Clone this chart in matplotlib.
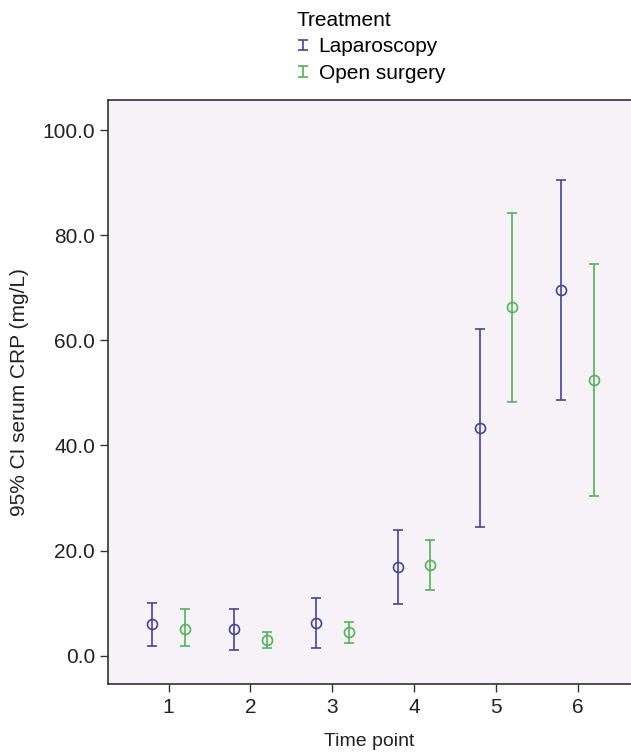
import numpy as np
import matplotlib
matplotlib.use('Agg')
import matplotlib.pyplot as plt
from matplotlib.legend_handler import HandlerErrorbar

plt.rcParams['font.family'] = ['Liberation Sans', 'DejaVu Sans']

time_points = [1, 2, 3, 4, 5, 6]
groups = ['Laparoscopy', 'Open surgery']

lap_mean = [6.0, 5.0, 6.3, 16.9, 43.4, 69.6]
lap_upper = [10.1, 8.8, 11.0, 23.9, 62.1, 90.4]
lap_lower = [1.8, 1.1, 1.4, 9.8, 24.5, 48.6]

open_mean = [5.0, 2.9, 4.5, 17.3, 66.3, 52.5]
open_upper = [8.8, 4.5, 6.4, 22.1, 84.2, 74.6]
open_lower = [1.8, 1.4, 2.4, 12.5, 48.3, 30.3]

colors = ['#44449a', '#52b35a']

fig = plt.figure(figsize=(6.31, 7.54), dpi=100)
ax = fig.add_axes([0.1716, 0.0924, 0.8284, 0.7756])
ax.set_facecolor('#f6f2f7')

series = [(lap_mean, lap_lower, lap_upper), (open_mean, open_lower, open_upper)]
offsets = [-0.2, 0.2]
handles = []
for (m, lo, up), off, c, g in zip(series, offsets, colors, groups):
    x = np.array(time_points) + off
    m = np.array(m); lo = np.array(lo); up = np.array(up)
    eb = ax.errorbar(x, m, yerr=[m - lo, up - m], fmt='none', ecolor=c,
                     elinewidth=1.2, capsize=3.6, capthick=1.2, label=g)
    ax.plot(x, m, 'o', mfc='none', mec=c, ms=7.2, mew=1.2)
    handles.append(eb)

ax.set_xlim(0.264, 6.65)
ax.set_ylim(-5.44, 105.8)
ax.set_xticks(time_points)
ax.set_yticks([0, 20, 40, 60, 80, 100])
ax.set_yticklabels(['%.1f' % v for v in [0, 20, 40, 60, 80, 100]])
ax.tick_params(labelsize=15, length=6, width=1, color='#333333', labelcolor='#222222')
for s in ['left', 'bottom', 'top']:
    ax.spines[s].set_color('#333333')
    ax.spines[s].set_linewidth(1.2)
ax.spines['right'].set_visible(False)

ax.set_xlabel('Time point', fontsize=14, color='#222222', labelpad=12)
ax.set_ylabel('95% CI serum CRP (mg/L)', fontsize=15, color='#222222', labelpad=10)

leg = fig.legend(handles, groups, title='Treatment', loc='upper left',
                 bbox_to_anchor=(0.444, 1.008), frameon=False, fontsize=15,
                 title_fontsize=15, handlelength=0.55, handletextpad=0.5,
                 labelspacing=0.36, borderpad=0.3,
                 handler_map={type(handles[0]): HandlerErrorbar(xerr_size=0.5, yerr_size=0.25)})
leg._legend_box.align = 'left'

fig.savefig('out.png', dpi=100)
